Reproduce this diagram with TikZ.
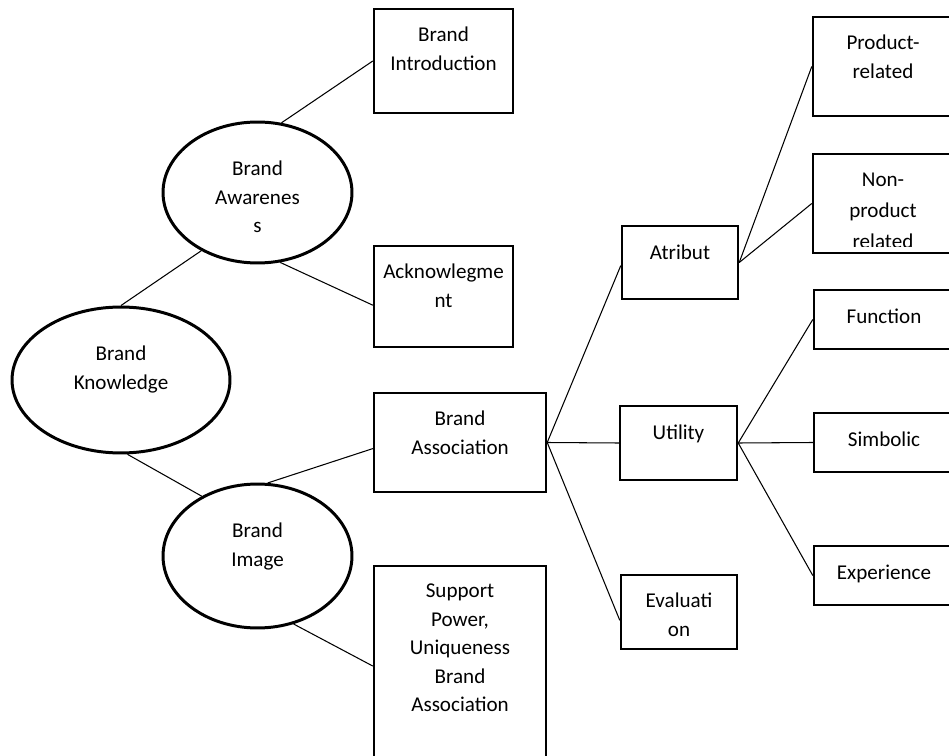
\documentclass[tikz,border=0pt]{standalone}
\usepackage{fontspec}
\setmainfont{Carlito}
\usetikzlibrary{shapes.geometric}
\tikzset{
  link/.style={black,line width=0.6pt},
  bubble/.style={ellipse,draw=black,line width=1.7pt,inner sep=0pt},
  block/.style={rectangle,draw=black,line width=1.4pt,inner sep=0pt},
  lab/.style={anchor=north,align=center,inner sep=0pt,
              font=\fontsize{12}{16.2}\selectfont,execute at begin node=\strut},
  blocklab/.style={lab,yshift=-8pt},
  multilab/.style={lab,yshift=-10.9pt},
  bubblelab/.style={lab,yshift=-22.8pt},
}
\begin{document}
\begin{tikzpicture}[x=0.02cm,y=-0.02cm]
  \path[use as bounding box] (0,0) rectangle (949,756);
  \clip (0,0) rectangle (949,756);
  \fill[white] (0,0) rectangle (949,756);

  \node[bubble,minimum width=4.36cm,minimum height=2.92cm,
        label={[bubblelab]north:Brand\\Knowledge}] (know) at (121,380) {};
  \node[bubble,minimum width=3.78cm,minimum height=2.82cm,
        label={[bubblelab]north:Brand\\Awarenes\\s}] (aware) at (257.5,192.5) {};
  \node[bubble,minimum width=3.78cm,minimum height=2.88cm,
        label={[bubblelab]north:Brand\\Image}] (image) at (257.5,556) {};

  \node[block,minimum width=2.78cm,minimum height=2.08cm,
        label={[multilab]north:Brand\\Introduction}] (intro) at (443.5,61) {};
  \node[block,minimum width=2.78cm,minimum height=2.02cm,
        label={[multilab]north:Acknowlegme\\nt}] (ackn) at (443.5,296.5) {};
  \node[block,minimum width=3.44cm,minimum height=1.98cm,
        label={[multilab]north:Brand\\Association}] (assoc) at (460,442.5) {};
  \node[block,minimum width=3.44cm,minimum height=4.68cm,
        label={[multilab]north:{Support\\Power,\\Uniqueness\\Brand\\Association}}] (support) at (460,683) {};

  \node[block,minimum width=2.32cm,minimum height=1.46cm,
        label={[blocklab]north:Atribut}] (atr) at (680,262.5) {};
  \node[block,minimum width=2.34cm,minimum height=1.48cm,
        label={[blocklab]north:Utility}] (util) at (678.5,443) {};
  \node[block,minimum width=2.32cm,minimum height=1.48cm,
        label={[multilab]north:Evaluati\\on}] (eval) at (679,612) {};

  \node[block,minimum width=2.8cm,minimum height=1.98cm,
        label={[multilab]north:Product-\\related}] (prod) at (883,66.5) {};
  \node[block,minimum width=2.8cm,minimum height=1.98cm,
        path picture={
          \clip (path picture bounding box.north west)
            rectangle ([yshift=0.12cm]path picture bounding box.south east);
          \node[lab,yshift=-6pt,font=\fontsize{12}{17.5}\selectfont] (nonprodlab)
            at (path picture bounding box.north) {Non-\\product\\related};}] (nonprod) at (883,203.5) {};
  \node[block,minimum width=2.8cm,minimum height=1.18cm,
        label={[blocklab]north:Function}] (func) at (884,319.5) {};
  \node[block,minimum width=2.8cm,minimum height=1.18cm,
        label={[blocklab]north:Simbolic}] (simb) at (884,442.5) {};
  \node[block,minimum width=2.8cm,minimum height=1.18cm,
        label={[blocklab]north:Experience}] (exper) at (884,575.5) {};

  \draw[link] (know.north) -- (aware.226);
  \draw[link] (aware.71) -- (intro.west);
  \draw[link] (aware.288) -- (ackn.187);
  \draw[link] (know.275) -- (image.133);
  \draw[link] (image.82) -- (assoc.184);
  \draw[link] (image.298) -- (support.169);
  \draw[link] (assoc.east) -- (atr.183);
  \draw[link] (assoc.east) -- (util.west);
  \draw[link] (assoc.east) -- (eval.188);
  \draw[link] (atr.east) -- (prod.west);
  \draw[link] (atr.east) -- (nonprod.west);
  \draw[link] (util.east) -- (func.west);
  \draw[link] (util.east) -- (simb.west);
  \draw[link] (util.east) -- (exper.west);
\end{tikzpicture}
\end{document}
